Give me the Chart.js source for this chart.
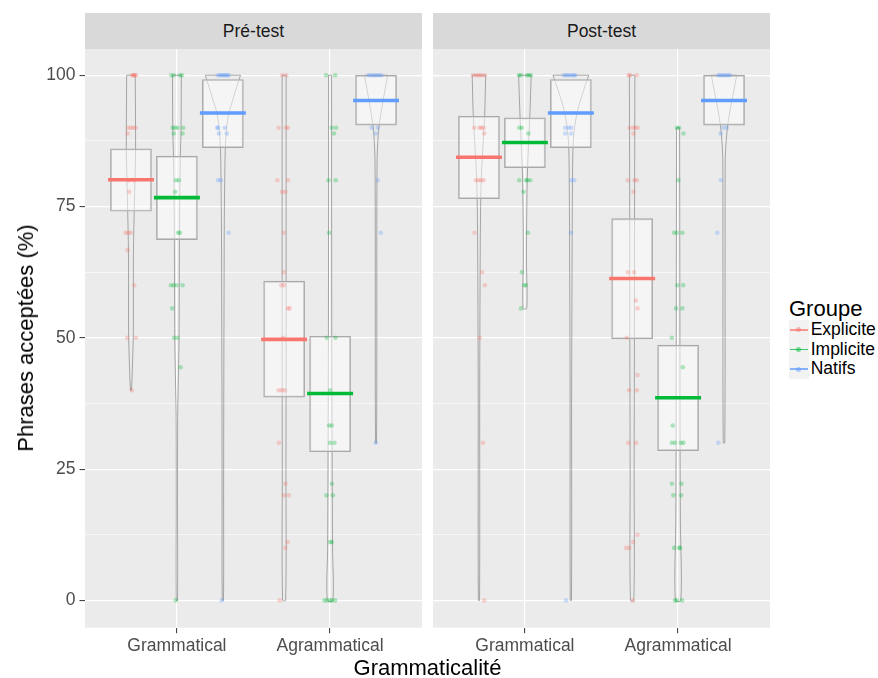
<!DOCTYPE html>
<html>
<head>
<meta charset="utf-8">
<script src="https://cdn.jsdelivr.net/npm/chart.js@4.4.1/dist/chart.umd.min.js"></script>
<style>
  body { margin: 0; width: 878px; height: 678px; position: relative; overflow: hidden; background: #fff;
         font-family: "Liberation Sans", Arial, sans-serif; }
  .abs { position: absolute; }
  .strip { position: absolute; top: 13px; height: 36px; line-height: 36px; background: #d9d9d9;
           color: #1a1a1a; font-size: 17.5px; text-align: center; }
  .title { position: absolute; font-size: 22px; line-height: 22px; color: #000; white-space: nowrap; }
  .key { position: absolute; left: 789px; width: 19.6px; height: 19.6px; background: #f2f2f2; }
  .key i { position: absolute; left: 1px; right: 1px; top: 9px; height: 1.5px; opacity: 0.75; }
  .key b { position: absolute; left: 7.3px; top: 7.3px; width: 5px; height: 5px; border-radius: 50%; opacity: 0.5; }
  .klab { position: absolute; left: 810.7px; font-size: 17.5px; line-height: 19.6px; color: #000; }
</style>
</head>
<body>
<div class="strip" style="left:85px;width:337px">Pré-test</div>
<div class="strip" style="left:433px;width:337px">Post-test</div>
<div class="abs" style="left:0;top:49px"><canvas id="pre" width="422" height="629"></canvas></div>
<div class="abs" style="left:433px;top:49px"><canvas id="post" width="337" height="629"></canvas></div>
<div class="title" style="left:427.5px;top:657px;transform:translateX(-50%)">Grammaticalité</div>
<div class="title" style="left:26px;top:338px;transform:translate(-50%,-50%) rotate(-90deg)">Phrases acceptées (%)</div>
<div class="title" style="left:789px;top:297.5px">Groupe</div>
<div id="legend"></div>
<script>
const facets = ["Pré-test", "Post-test"];
const categories = ["Grammatical", "Agrammatical"];
const groups = ["Explicite", "Implicite", "Natifs"];
const groupColors = ["#F8766D", "#00BA38", "#619CFF"];
const yTicks = [0, 12.5, 25, 37.5, 50, 62.5, 75, 87.5, 100];

// mean and box limits, [category][group]
const preMean = [[80.1, 76.7, 92.8], [49.7, 39.4, 95.2]];
const preLow = [[74.1, 68.7, 86.2], [38.7, 28.3, 90.5]];
const preHigh = [[86.0, 84.6, 99.2], [60.8, 50.3, 100]];
const postMean = [[84.4, 87.2, 92.8], [61.3, 38.6, 95.2]];
const postLow = [[76.5, 82.4, 86.2], [49.8, 28.5, 90.5]];
const postHigh = [[92.2, 91.9, 99.2], [72.7, 48.6, 100]];

// violin half-widths: [value, half width]
const vPreGramExp = [[100, .028], [90, .030], [85, .030], [80, .026], [75, .022], [66, .016], [55, .016], [50, .015], [45, .010], [40, .003]];
const vPreGramImp = [[100, .029], [90, .027], [84, .022], [75, .018], [65, .016], [50, .014], [40, .008], [35, .005], [20, .004], [0, .004]];
const vPreGramNat = [[100, .115], [97, .082], [95, .062], [93, .040], [90, .025], [86, .016], [80, .012], [70, .009], [60, .008], [40, .006], [20, .005], [0, .004]];
const vPreAgrExp = [[100, .013], [75, .013], [50, .013], [25, .012], [0, .010]];
const vPreAgrImp = [[100, .010], [75, .010], [50, .011], [30, .013], [10, .016], [0, .018]];
const vPreAgrNat = [[100, .076], [96.5, .054], [93.3, .035], [90, .018], [87, .011], [84, .007], [70, .005], [50, .005], [30, .003]];
const vPostGramExp = [[100, .044], [93, .038], [87, .027], [81, .016], [75, .011], [65, .008], [40, .005], [0, .004]];
const vPostGramImp = [[100, .041], [93, .033], [87, .024], [81, .016], [74, .012], [65, .010], [55.6, .012]];
const vPostGramNat = [[100, .117], [96.5, .076], [93.3, .044], [90, .024], [86.4, .014], [77.5, .010], [65, .008], [40, .005], [0, .004]];
const vPostAgrExp = [[100, .018], [75, .016], [50, .015], [25, .013], [0, .011]];
const vPostAgrImp = [[90, .010], [70, .011], [50, .012], [30, .013], [15, .015], [0, .018]];
const vPostAgrNat = [[100, .083], [96.5, .060], [93.3, .039], [90, .022], [87, .013], [84, .008], [65, .007], [30, .005]];

// observations: [value, horizontal jitter]
const pPreGramExp = [[100, .007], [100, .016], [100, .026], [100, .033], [100, .020], [90, -.018], [90, 0], [90, .015], [90, .031],
  [88.9, -.022], [80, -.013], [80, .020], [77.8, -.011], [70, -.035], [70, -.018], [70, -.002], [66.7, -.022], [60, .022],
  [50, -.024], [50, .033], [40, .005]];
const pPreGramImp = [[100, -.036], [100, -.020], [100, .020], [100, .033], [90, -.028], [90, -.013], [90, .005], [90, .041],
  [88.9, -.020], [88.9, .037], [80, -.007], [80, .013], [77.8, -.011], [70, .008], [70, .020], [60, -.039], [60, -.022],
  [60, -.002], [60, .037], [55.6, -.031], [50, -.018], [50, .005], [44.4, .024], [0, -.008]];
const pPreGramNat = [[100, -.033], [100, -.020], [100, -.010], [100, 0], [100, .010], [100, .020], [100, .029], [100, .039],
  [90, -.037], [90, -.031], [90, .013], [88.9, -.026], [88.9, .026], [80, -.031], [80, -.013], [70, .037], [0, -.008]];
const pPreAgrExp = [[100, -.012], [100, .014], [90, -.036], [90, .010], [90, .025], [80, -.044], [80, .025], [77.8, -.014],
  [77.8, .008], [70, -.003], [62.5, -.003], [60, -.018], [60, -.001], [55.6, .025], [55.6, .036], [50, -.007], [40, -.036],
  [40, -.016], [40, .003], [30, -.034], [22.2, .008], [20, -.001], [20, .031], [11.1, .023], [10, .008], [0, -.029]];
const pPreAgrImp = [[100, -.026], [100, .033], [90, .011], [90, .039], [88.9, .026], [80, -.011], [80, .037], [70, -.007],
  [50, -.022], [50, .035], [40, 0], [33.3, -.007], [33.3, .011], [30, 0], [30, .028], [22.2, .011], [20, -.024], [20, .018],
  [11.1, 0], [11.1, .011], [0, -.037], [0, -.020], [0, 0], [0, .013], [0, .033]];
const pPreAgrNat = [[100, -.050], [100, -.036], [100, -.020], [100, -.007], [100, .007], [100, .020], [100, .036],
  [90, -.028], [90, .011], [88.9, -.002], [80, .011], [70, .031], [30, -.002]];
const pPostGramExp = [[100, -.039], [100, -.020], [100, -.007], [100, .007], [100, .020], [100, .039], [90, -.031], [90, .004],
  [90, .015], [90, .030], [88.9, .035], [80, -.020], [80, -.003], [80, .013], [80, .030], [70, -.029], [62.5, .020],
  [60, .039], [50, .004], [30, .026], [0, .035]];
const pPostGramImp = [[100, -.039], [100, -.026], [100, .013], [100, .026], [100, .039], [90, -.037], [90, -.020], [88.9, .023],
  [80, -.037], [80, .007], [80, .017], [80, .035], [77.8, -.009], [70, .020], [62.5, -.020], [60, -.005], [60, .007], [55.6, -.026]];
const pPostGramNat = [[100, -.046], [100, -.033], [100, -.020], [100, -.007], [100, .007], [100, .020], [100, .029],
  [90, -.037], [90, -.015], [90, .002], [88.9, -.037], [88.9, .002], [80, .002], [80, .022], [70, 0], [0, -.031]];
const pPostAgrExp = [[100, -.024], [100, -.013], [100, .031], [90, -.018], [90, .008], [90, .020], [90, .037], [88.9, .008],
  [80, -.028], [80, .015], [80, .031], [77.8, .008], [62.5, -.028], [62.5, .013], [57.1, .024], [55.6, .035], [50, -.035],
  [42.9, .035], [40, -.020], [40, .031], [30, -.024], [30, .026], [12.5, .035], [11.1, .007], [10, -.039], [10, -.018], [0, .005]];
const pPostAgrImp = [[90, -.008], [90, .007], [88.9, .035], [80, .002], [70, -.026], [70, -.008], [70, .028], [60, -.005],
  [60, .033], [55.6, -.013], [55.6, .028], [50, -.041], [44.4, .031], [33.3, -.035], [30, -.041], [30, -.020], [30, .018],
  [30, .035], [22.2, -.041], [22.2, .022], [20, -.031], [20, .020], [10, -.026], [10, .008], [10, .013], [0, -.020], [0, -.008], [0, .026]];
const pPostAgrNat = [[100, -.037], [100, -.026], [100, -.013], [100, 0], [100, .013], [100, .026], [100, .039],
  [90, -.005], [90, .018], [88.9, -.022], [80, -.020], [70, -.044], [30, -.037]];

const dodge = [-0.3, 0, 0.3];
const violinColor = "rgba(105,105,105,0.55)";
const boxColor = "#a9a9a9";

Chart.defaults.font.family = "'Liberation Sans', Arial, sans-serif";

function hexA(hex, a) {
  const n = parseInt(hex.slice(1), 16);
  return `rgba(${(n >> 16) & 255}, ${(n >> 8) & 255}, ${n & 255}, ${a})`;
}

function panelDatasets(mean, low, high, violins, points) {
  const ds = [];
  const caps = [];
  groups.forEach((g, gi) => {
    const col = groupColors[gi];
    categories.forEach((cat, ci) => {
      const c = ci + 1 + dodge[gi];
      const prof = violins[ci][gi];
      const right = prof.map(([v, w]) => ({ x: c + w, y: v }));
      const left = prof.slice().reverse().map(([v, w]) => ({ x: c - w, y: v }));
      ds.push({ type: "line", data: right.concat(left), borderColor: violinColor, borderWidth: 1,
        pointRadius: 0, tension: 0.3, fill: false, order: 5 });
      caps.push({ x: c - prof[0][1], y: prof[0][0] }, { x: c + prof[0][1], y: prof[0][0] }, { x: c, y: null });
    });
    ds.push({
      type: "bar", label: g,
      data: categories.map((cat, ci) => ({ x: ci + 1 + dodge[gi], y: [low[ci][gi], high[ci][gi]] })),
      barThickness: 41, grouped: false, backgroundColor: "rgba(255,255,255,0.5)",
      borderColor: boxColor, borderWidth: 1.2, borderSkipped: false, order: 4,
    });
    ds.push({
      type: "scatter",
      data: categories.flatMap((cat, ci) => points[ci][gi].map(([v, dx]) => ({ x: ci + 1 + dodge[gi] + dx, y: v }))),
      pointBackgroundColor: hexA(col, 0.3), pointBorderWidth: 0, pointRadius: 2.3, order: 3,
    });
    ds.push({
      type: "line",
      data: categories.flatMap((cat, ci) => [
        { x: ci + 1 + dodge[gi] - 0.15, y: mean[ci][gi] },
        { x: ci + 1 + dodge[gi] + 0.15, y: mean[ci][gi] },
        { x: ci + 1.5, y: null },
      ]),
      borderColor: col, borderWidth: 3.6, pointRadius: 0, tension: 0, spanGaps: false, order: 2,
    });
  });
  ds.push({ type: "line", data: caps, borderColor: violinColor, borderWidth: 1, pointRadius: 0,
    tension: 0, spanGaps: false, order: 5 });
  return ds;
}

const panelBg = {
  id: "panelBg",
  beforeDraw(chart) {
    const { ctx, chartArea: a } = chart;
    ctx.save();
    ctx.fillStyle = "#ebebeb";
    ctx.fillRect(a.left, a.top, a.right - a.left, a.bottom - a.top);
    ctx.restore();
  },
};

function isMajor(ctx) {
  return ctx.tick && ctx.tick.value % 25 === 0;
}

function makePanel(id, datasets, showY) {
  return new Chart(document.getElementById(id), {
    type: "scatter",
    data: { datasets },
    options: {
      responsive: false,
      animation: false,
      events: [],
      layout: { padding: 0, autoPadding: false },
      plugins: { legend: { display: false }, tooltip: { enabled: false } },
      scales: {
        x: {
          type: "linear", min: 0.4, max: 2.6, offset: false,
          afterBuildTicks: (s) => { s.ticks = categories.map((c, i) => ({ value: i + 1 })); },
          afterFit: (s) => { s.height = 50.3; s.paddingLeft = 0; s.paddingRight = 0; },
          ticks: { callback: (v) => categories[v - 1], color: "#4d4d4d", font: { size: 17.5 },
            padding: 2, autoSkip: false, maxRotation: 0 },
          grid: { offset: false, color: "#ffffff", lineWidth: 1.2, tickColor: "#333333", tickLength: 5.5, tickWidth: 1 },
          border: { display: false },
        },
        y: {
          type: "linear", min: -5.2, max: 105, beginAtZero: false,
          afterBuildTicks: (s) => { s.ticks = yTicks.map((v) => ({ value: v })); },
          afterFit: (s) => { s.width = showY ? 85 : 0; s.paddingTop = 0; s.paddingBottom = 0; },
          ticks: { display: showY, callback: (v) => (v % 25 === 0 ? String(v) : ""), color: "#4d4d4d",
            font: { size: 17.5 }, padding: 4 },
          grid: {
            color: "#ffffff",
            lineWidth: (ctx) => (isMajor(ctx) ? 1.2 : 0.6),
            drawTicks: showY,
            tickColor: (ctx) => (isMajor(ctx) ? "#333333" : "rgba(0,0,0,0)"),
            tickLength: 5.5, tickWidth: 1,
          },
          border: { display: false },
        },
      },
    },
    plugins: [panelBg],
  });
}

makePanel("pre", panelDatasets(preMean, preLow, preHigh,
  [[vPreGramExp, vPreGramImp, vPreGramNat], [vPreAgrExp, vPreAgrImp, vPreAgrNat]],
  [[pPreGramExp, pPreGramImp, pPreGramNat], [pPreAgrExp, pPreAgrImp, pPreAgrNat]]), true);

makePanel("post", panelDatasets(postMean, postLow, postHigh,
  [[vPostGramExp, vPostGramImp, vPostGramNat], [vPostAgrExp, vPostAgrImp, vPostAgrNat]],
  [[pPostGramExp, pPostGramImp, pPostGramNat], [pPostAgrExp, pPostAgrImp, pPostAgrNat]]), false);

// legend
const legend = document.getElementById("legend");
groups.forEach((g, gi) => {
  const top = 320.2 + gi * 19.6;
  const key = document.createElement("div");
  key.className = "key";
  key.style.top = top + "px";
  key.innerHTML = `<i style="background:${groupColors[gi]}"></i><b style="background:${groupColors[gi]}"></b>`;
  legend.appendChild(key);
  const lab = document.createElement("div");
  lab.className = "klab";
  lab.style.top = top + "px";
  lab.textContent = g;
  legend.appendChild(lab);
});
</script>
</body>
</html>
